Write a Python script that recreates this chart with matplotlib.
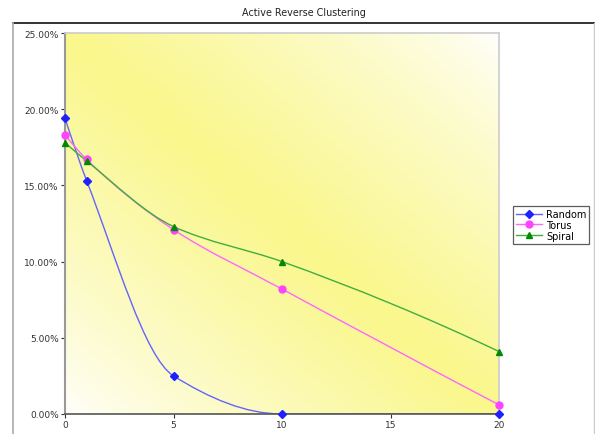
import numpy as np
import matplotlib
matplotlib.use('Agg')
import matplotlib.pyplot as plt
from matplotlib.path import Path
from matplotlib.patches import PathPatch
from matplotlib.lines import Line2D
from matplotlib.colors import LinearSegmentedColormap
from matplotlib.ticker import FuncFormatter

# data
x_vals = [0, 1, 5, 10, 20]
random_vals = [19.4, 15.3, 2.5, 0.0, 0.0]
torus_vals = [18.3, 16.7, 12.1, 8.2, 0.6]
spiral_vals = [17.8, 16.6, 12.3, 10.0, 4.1]
series_names = ['Random', 'Torus', 'Spiral']
x_ticks = [0, 5, 10, 15, 20]
y_ticks = [0, 5, 10, 15, 20, 25]


def pchip_slopes(x, y):
    # monotone (Fritsch-Carlson) tangents, used only to shape the drawn curve
    x = np.asarray(x, float)
    y = np.asarray(y, float)
    h = np.diff(x)
    d = np.diff(y) / h
    m = np.zeros_like(y)
    for k in range(1, len(x) - 1):
        if d[k-1] * d[k] <= 0:
            m[k] = 0
        else:
            w1 = 2*h[k] + h[k-1]
            w2 = h[k] + 2*h[k-1]
            m[k] = (w1 + w2) / (w1/d[k-1] + w2/d[k])
    def end(h0, h1, d0, d1):
        s = ((2*h0 + h1)*d0 - h0*d1) / (h0 + h1)
        if np.sign(s) != np.sign(d0):
            s = 0
        elif np.sign(d0) != np.sign(d1) and abs(s) > abs(3*d0):
            s = 3*d0
        return s
    m[0] = end(h[0], h[1], d[0], d[1])
    m[-1] = end(h[-1], h[-2], d[-1], d[-2])
    return m


def smooth_path(x, y):
    m = pchip_slopes(x, y)
    verts = [(x[0], y[0])]
    codes = [Path.MOVETO]
    for k in range(len(x) - 1):
        h = x[k+1] - x[k]
        verts += [(x[k] + h/3, y[k] + m[k]*h/3),
                  (x[k+1] - h/3, y[k+1] - m[k+1]*h/3),
                  (x[k+1], y[k+1])]
        codes += [Path.CURVE4]*3
    return Path(verts, codes)


fig = plt.figure(figsize=(5.95, 4.35), dpi=100)
ax = fig.add_axes([65/595, 20/435, 434/595, 381/435])

# diagonal yellow gradient background
gx, gy = np.meshgrid(np.linspace(0, 1, 300), np.linspace(1, 0, 300))
band = (1 - np.abs(gx + gy - 1)) ** 0.75
cmap = LinearSegmentedColormap.from_list('yel', ['#ffffff', '#faf78c'])
ax.imshow(band, cmap=cmap, extent=[0, 1, 0, 1], transform=ax.transAxes,
          aspect='auto', zorder=0, vmin=0, vmax=1)

styles = [
    (random_vals, '#6464ff', '#2020ff', 'D', 3.8),
    (torus_vals, '#ff66ff', '#ff44ff', 'o', 5),
    (spiral_vals, '#3fae3f', '#008a00', '^', 5),
]
handles = []
for (vals, lc, mc, mk, ms), name in zip(styles, series_names):
    ax.add_patch(PathPatch(smooth_path(x_vals, vals), fill=False,
                           edgecolor=lc, lw=1.0, zorder=2))
    ax.plot(x_vals, vals, ls='none', marker=mk, color=mc, ms=ms,
            clip_on=False, zorder=3)
    handles.append(Line2D([], [], color=lc, lw=1.0, marker=mk,
                          mfc=mc, mec=mc, ms=ms, label=name))

ax.set_xlim(0, 20)
ax.set_ylim(0, 25)
ax.set_xticks(x_ticks)
ax.set_yticks(y_ticks)
ax.yaxis.set_major_formatter(FuncFormatter(lambda v, p: '%.2f%%' % v))
ax.tick_params(labelsize=6.5, colors='#333333', length=3, width=0.8, pad=1.5)

ax.spines['left'].set_color('#999999')
ax.spines['left'].set_linewidth(1.5)
ax.spines['bottom'].set_color('#555555')
ax.spines['bottom'].set_linewidth(1.2)
ax.spines['top'].set_color('#cccccc')
ax.spines['right'].set_color('#cccccc')
ax.spines['top'].set_linewidth(1.2)
ax.spines['right'].set_linewidth(1.2)

fig.text(304/595, 1 - 13/435, 'Active Reverse Clustering', ha='center',
         va='center', fontsize=6.9, color='#222222')

# outer frame lines
fig.add_artist(Line2D([13/595, 1], [1 - 24/435]*2, color='#111111', lw=1.2,
                      transform=fig.transFigure))
fig.add_artist(Line2D([13/595]*2, [0, 1 - 24/435], color='#aaaaaa', lw=1.2,
                      transform=fig.transFigure))
fig.add_artist(Line2D([594/595]*2, [0, 1 - 24/435], color='#cccccc', lw=1.0,
                      transform=fig.transFigure))

leg = fig.legend(handles=handles, loc='upper left',
                 bbox_to_anchor=(513/595, 1 - 207/435), fontsize=7,
                 frameon=True, fancybox=False, borderpad=0.3,
                 labelspacing=0.1, handlelength=2.7, handletextpad=0.4,
                 borderaxespad=0)
leg.get_frame().set_edgecolor('#333333')
leg.get_frame().set_linewidth(0.9)

fig.savefig('out.png', dpi=100)
